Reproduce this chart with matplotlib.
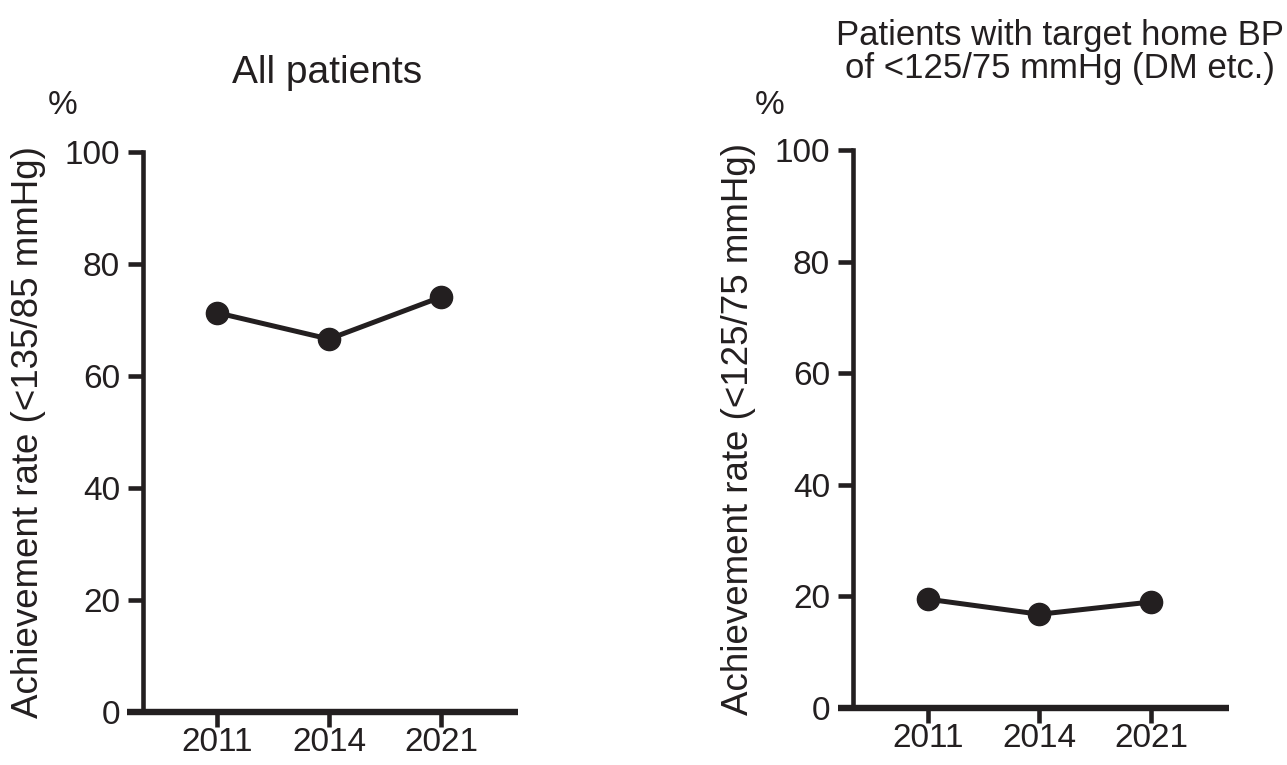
import numpy as np
import matplotlib.pyplot as plt

plt.rcParams['font.family'] = ['Liberation Sans', 'DejaVu Sans']

years = ['2011', '2014', '2021']
all_patients = [71.3, 66.6, 74.1]
dm_patients = [19.5, 16.8, 19.0]
yticks = [0, 20, 40, 60, 80, 100]

ink = '#231f20'
W, H = 1287, 765

fig = plt.figure(figsize=(W / 100, H / 100), dpi=100)


def frac(x0, x1, y0, y1):
    return [x0 / W, 1 - y1 / H, (x1 - x0) / W, (y1 - y0) / H]


def panel(rect, xlim, values, ylabel, spine_x, label_x):
    ax = fig.add_axes(rect)
    x = np.arange(len(years))
    ax.plot(x, values, color=ink, lw=3.6, marker='o', ms=16, clip_on=False,
            zorder=5)
    ax.set_ylim(0, 100)
    ax.set_xlim(*xlim)
    ax.set_xticks(x, years)
    ax.set_yticks(yticks)
    for s in ['top', 'right']:
        ax.spines[s].set_visible(False)
    ax.spines['left'].set_position(('data', spine_x))
    ax.spines['left'].set_bounds(0, 100)
    ax.spines['left'].set_linewidth(3.3)
    ax.spines['bottom'].set_linewidth(4.6)
    ax.spines['bottom'].set_capstyle('butt')
    for s in ['left', 'bottom']:
        ax.spines[s].set_color(ink)
    ax.tick_params(axis='y', length=10.5, width=3.3, color=ink, labelsize=24,
                   labelcolor=ink, pad=6)
    ax.tick_params(axis='x', length=10.5, width=3.3, color=ink, labelsize=24,
                   labelcolor=ink, pad=0.5)
    ax.set_ylabel(ylabel, fontsize=26.5, color=ink)
    ax.yaxis.set_label_coords(label_x, 0.5)
    return ax


ax1 = panel(frac(127, 518, 152, 712), (-0.804, 2.688), all_patients,
            'Achievement rate (<135/85 mmHg)', -0.661, -0.207)
ax2 = panel(frac(838, 1229, 150, 708), (-0.807, 2.70), dm_patients,
            'Achievement rate (<125/75 mmHg)', -0.673, -0.21)

fig.text(327 / W, 1 - 83 / H, 'All patients', fontsize=28, color=ink,
         ha='center', va='baseline')
fig.text(1060 / W, 1 - 45 / H, 'Patients with target home BP',
         fontsize=25, color=ink, ha='center', va='baseline')
fig.text(1060 / W, 1 - 78 / H, 'of <125/75 mmHg (DM etc.)',
         fontsize=25, color=ink, ha='center', va='baseline')
fig.text(63 / W, 1 - 105 / H, '%', fontsize=24, color=ink, ha='center', va='center')
fig.text(770 / W, 1 - 105 / H, '%', fontsize=24, color=ink, ha='center', va='center')

fig.savefig('out.png', dpi=100)
